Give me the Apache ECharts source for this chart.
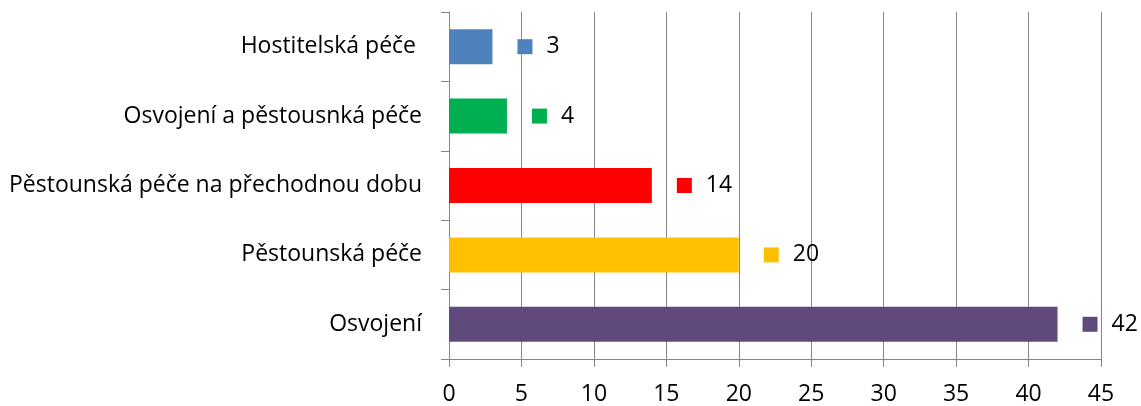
<!DOCTYPE html>
<html><head><meta charset="utf-8">
<script src="https://cdn.jsdelivr.net/npm/echarts@6/dist/echarts.min.js"></script>
<style>html,body{margin:0;padding:0;background:#fff}#c{width:1141px;height:406px}</style>
</head><body><div id="c"></div>
<script>
const categories = ['Hostitelská péče ', 'Osvojení a pěstousnká péče', 'Pěstounská péče na přechodnou dobu', 'Pěstounská péče', 'Osvojení'];
const values = [3, 4, 14, 20, 42];
const colors = ['#4F81BD', '#00B050', '#FF0000', '#FFC000', '#604A7B'];
const xTicks = [0, 5, 10, 15, 20, 25, 30, 35, 40, 45];

const FONT = 'Open Sans';
const FS = 23;
const CFS = 23;
const rich = { v: { fontFamily: FONT, fontSize: FS, color: '#000', padding: [0, 0, 0, 14] } };
colors.forEach((c, i) => { rich['m' + i] = { width: 15, height: 15, backgroundColor: c }; });

const chart = echarts.init(document.getElementById('c'), null, { renderer: 'canvas' });
chart.setOption({
  animation: false,
  grid: { left: 449, right: 40, top: 12, bottom: 47, containLabel: false },
  xAxis: {
    type: 'value', min: xTicks[0], max: xTicks[xTicks.length - 1], interval: 5,
    axisLine: { show: true, lineStyle: { color: '#868686', width: 1 } },
    axisTick: { show: true, length: 8, lineStyle: { color: '#868686' } },
    splitLine: { show: true, lineStyle: { color: '#868686', width: 1 } },
    axisLabel: { fontFamily: FONT, fontSize: FS, color: '#000', margin: 24 }
  },
  yAxis: {
    type: 'category', data: categories, inverse: true,
    axisLine: { show: true, lineStyle: { color: '#868686', width: 1 } },
    axisTick: { show: true, length: 8, lineStyle: { color: '#868686' } },
    axisLabel: { fontFamily: FONT, fontSize: CFS, color: '#000', margin: 27 }
  },
  series: [{
    type: 'bar', barWidth: 35,
    data: values.map((v, i) => ({ value: v, itemStyle: { color: colors[i] } })),
    label: {
      show: true, position: 'right', distance: 25,
      formatter: p => '{m' + p.dataIndex + '|}{v|' + p.value + '}',
      rich: rich
    }
  }]
});
</script></body></html>
